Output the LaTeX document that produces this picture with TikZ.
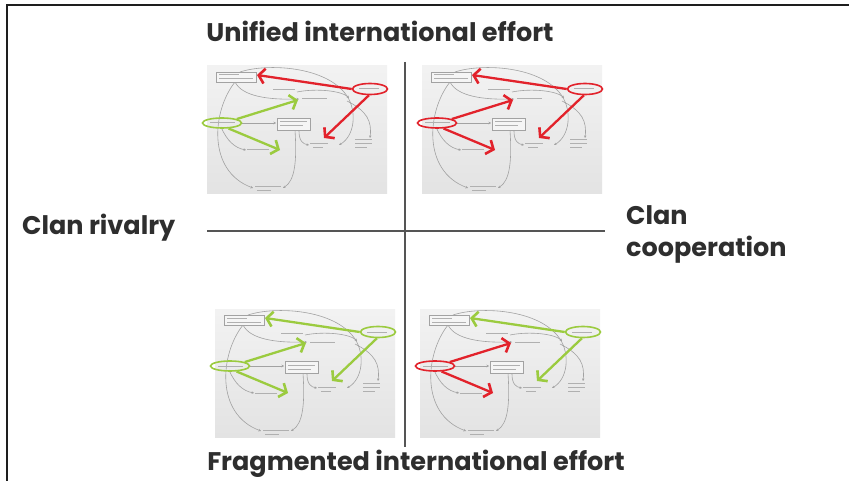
\documentclass[tikz,border=0pt]{standalone}
\usepackage{fontspec}
\setmainfont{Poppins}
\usetikzlibrary{arrows.meta,shapes.geometric}

\definecolor{ink}{HTML}{2E2E2E}
\definecolor{frameink}{HTML}{1E1E1E}
\definecolor{axisink}{HTML}{555555}
\definecolor{hotred}{HTML}{E2222B}
\definecolor{lime}{HTML}{9BCB3F}
\definecolor{sketch}{HTML}{A2A2A2}

\tikzset{
  heading/.style={text=ink, font=\fontsize{25.5}{30}\selectfont\bfseries, inner sep=0pt},
  panel/.style={top color=white!90!gray, bottom color=white!78!gray, draw=none},
  loopline/.style={draw=sketch, line width=0.6pt, -{Stealth[length=2.5pt,width=2.5pt]}},
  tinytext/.style={draw=sketch!85, line width=1pt},
  tinybox/.style={draw=sketch, line width=0.5pt, fill=white!92!gray},
  focus/.style={ellipse, draw=#1, line width=1.6pt, inner sep=0pt},
  bigarrow/.style={draw=#1, line width=2.3pt,
    -{Straight Barb[length=6pt,width=15pt,line width=2.6pt]}},
}

% one small causal-loop thumbnail; #1 name prefix, #2 top-left corner,
% #3 colour of the left focus group, #4 colour of the right focus group
\newcommand\quadpanel[4]{%
  \begin{scope}[shift={#2}]
    \fill[panel] (0,0) rectangle (180,128);
    % faint loop structure
    \draw[loopline] (33,6) .. controls (60,-3) and (120,0) .. (140,30)
                           .. controls (150,45) and (148,70) .. (132,79);
    \draw[loopline] (28,16) .. controls (5,45) and (0,105) .. (46,122);
    \draw[loopline] (28,16) .. controls (35,30) and (60,34) .. (92,33);
    \draw[loopline] (88,64) .. controls (90,95) and (88,115) .. (76,122);
    \draw[loopline] (140,35) .. controls (160,45) and (165,55) .. (163,72);
    \draw[loopline] (92,65) .. controls (92,75) and (96,78) .. (102,79);
    \draw[loopline] (35,57) -- (69,57);
    \draw[loopline] (14,61) .. controls (20,75) and (28,82) .. (39,84);
    \draw[loopline] (90,26) .. controls (110,22) and (135,25) .. (142,32);
    % variable labels
    \draw[tinybox] (9,6) rectangle (49,16);
    \draw[tinytext] (12,9) -- (32,9) (12,13) -- (46,13);
    \draw[tinytext] (66,24) -- (88,24);
    \draw[tinytext] (95,33) -- (120,33);
    \draw[tinybox] (70,52) rectangle (103,64);
    \draw[tinytext] (73,56) -- (100,56) (73,60) -- (96,60);
    \draw[tinytext] (103,78) -- (121,78) (106,82) -- (116,82);
    \draw[tinytext] (148,74) -- (165,74) (148,78) -- (165,78) (148,82) -- (160,82);
    \draw[tinytext] (48,121) -- (74,121) (50,125) -- (64,125);
    \draw[tinytext] (40,84) -- (62,84);
    \draw[tinytext] (152,23) -- (172,23);
    \draw[tinytext] (3,57) -- (28,57);
    % focus groups and their influence
    \node[focus=#4, minimum width=35pt, minimum height=11pt] (#1R) at (163,23) {};
    \node[focus=#3, minimum width=39pt, minimum height=10pt] (#1L) at (15,57) {};
    \coordinate (#1a) at (50,9);
    \coordinate (#1b) at (117,72);
    \coordinate (#1c) at (91,34);
    \coordinate (#1d) at (73,84);
    \draw[bigarrow=#4] (#1R.west) -- (#1a);
    \draw[bigarrow=#4] (#1R.-100) -- (#1b);
    \draw[bigarrow=#3] (#1L.15) -- (#1c);
    \draw[bigarrow=#3] (#1L.-40) -- (#1d);
  \end{scope}}

\begin{document}
\begin{tikzpicture}[x=1pt,y=-1pt]
  \useasboundingbox (0,0) rectangle (849,481);
  \fill[white] (0,0) rectangle (849,481);

  % frame
  \draw[frameink, line width=2pt] (7,481) -- (7,5) -- (849,5);

  % axes
  \draw[axisink, line width=1.4pt] (207,231) -- (605,231);
  \draw[axisink, line width=1.4pt] (405,62) -- (405,447);

  % four scenarios
  \quadpanel{tl}{(207,66)}{lime}{hotred}
  \quadpanel{tr}{(422,66)}{hotred}{hotred}
  \quadpanel{bl}{(215,309)}{lime}{lime}
  \quadpanel{br}{(420,309)}{hotred}{lime}

  % axis headings
  \node[heading] (unified) at (380,31) {Unified international effort};
  \node[heading] (fragmented) at (416,464) {Fragmented international effort};
  \node[heading, anchor=west] (rivalry) at (22,228) {Clan rivalry};
  \node[heading, anchor=west, align=left,
        font=\fontsize{25.5}{32}\selectfont\bfseries] (coop) at (626,234)
        {Clan\\cooperation};
\end{tikzpicture}
\end{document}
